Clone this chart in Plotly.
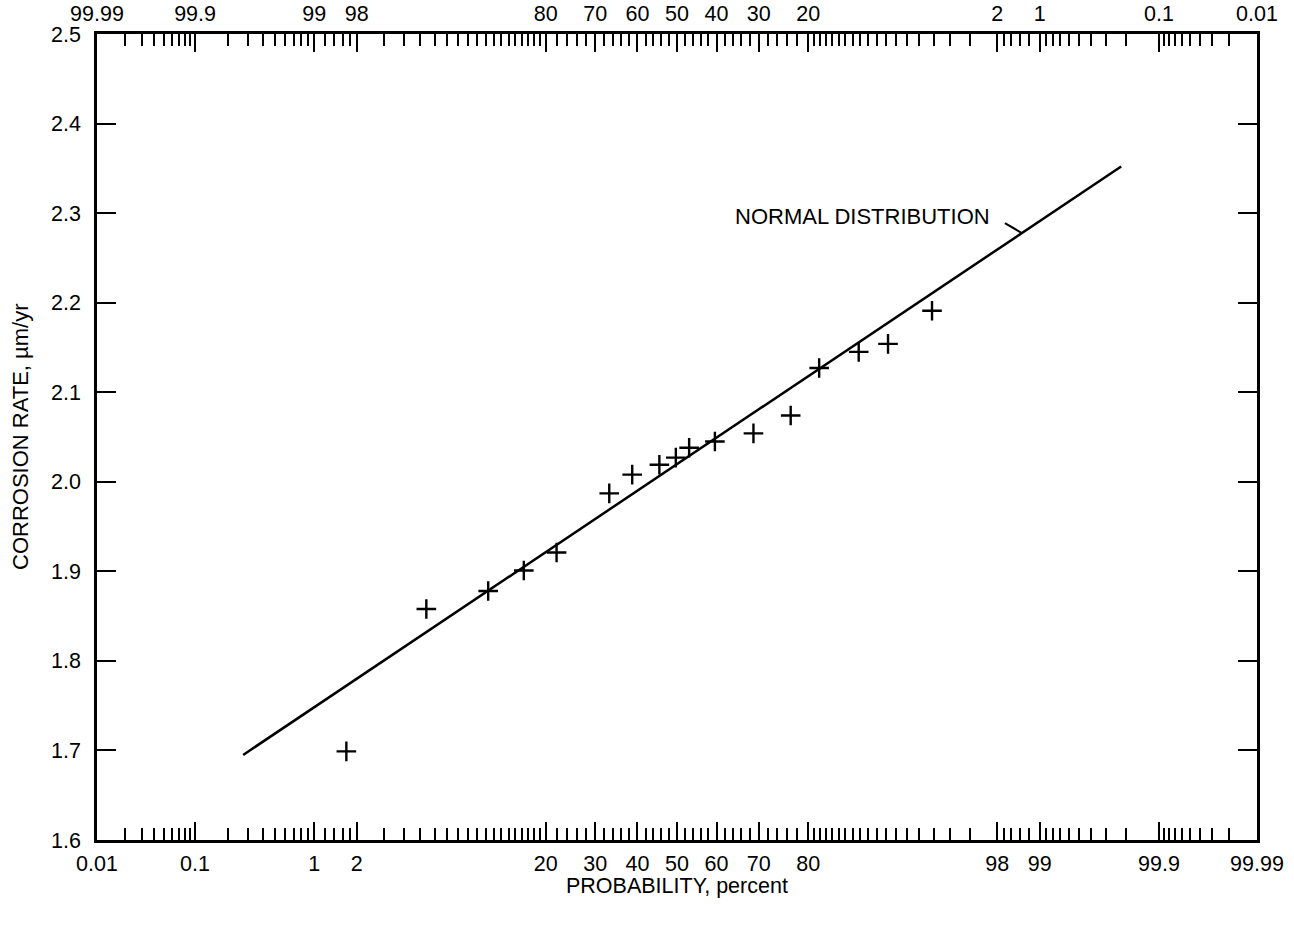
import plotly.graph_objects as go
from statistics import NormalDist

_nd = NormalDist()


def zq(p):
    """Probability in percent -> standard normal quantile (probability-paper scale)."""
    return _nd.inv_cdf(p / 100.0)


# ---------------- data ----------------
PROB_PCT = [1.7, 5.4, 11.3, 16.3, 22.0, 33.2, 38.7, 45.5, 49.7, 53.1,
            59.6, 68.8, 76.7, 81.9, 87.8, 91.2, 94.9]
RATE = [1.699, 1.858, 1.878, 1.901, 1.921, 1.987, 2.008, 2.019, 2.027, 2.038,
        2.045, 2.054, 2.074, 2.127, 2.145, 2.154, 2.191]

# fitted normal distribution line (end points)
LINE_PROB = [0.27, 99.78]
LINE_RATE = [1.695, 2.352]

# probability tick labels
PROB_TICKS = [0.01, 0.1, 1, 2, 20, 30, 40, 50, 60, 70, 80, 98, 99, 99.9, 99.99]
BOTTOM_TEXT = ["0.01", "0.1", "1", "2", "20", "30", "40", "50", "60", "70",
               "80", "98", "99", "99.9", "99.99"]
TOP_TEXT = ["99.99", "99.9", "99", "98", "80", "70", "60", "50", "40", "30",
            "20", "2", "1", "0.1", "0.01"]

Y_TICKS = [1.6, 1.7, 1.8, 1.9, 2.0, 2.1, 2.2, 2.3, 2.4, 2.5]

# minor probability ticks
MINOR_PROB = ([round(0.01 * k, 2) for k in range(2, 10)]
              + [round(0.1 * k, 1) for k in range(2, 10)]
              + [1.2, 1.4, 1.6, 1.8]
              + list(range(3, 20))
              + [v for v in range(22, 80, 2) if v % 10 != 0]
              + list(range(81, 98))
              + [98.2, 98.4, 98.6, 98.8]
              + [round(99 + 0.1 * k, 1) for k in range(1, 9)]
              + [round(99.9 + 0.01 * k, 2) for k in range(1, 9)])

ANNOT_PROB = 98.65  # where the "NORMAL DISTRIBUTION" leader touches the line

# ---------------- figure ----------------
FONT = "Liberation Sans, Arial, Helvetica, sans-serif"
TICK_SIZE = 21.5
xr = [zq(0.01), zq(99.99)]

fig = go.Figure()

fig.add_trace(go.Scatter(
    x=[zq(p) for p in LINE_PROB], y=LINE_RATE, mode="lines",
    line=dict(color="black", width=2.5), hoverinfo="skip", showlegend=False))

fig.add_trace(go.Scatter(
    x=[zq(p) for p in PROB_PCT], y=RATE, mode="markers",
    marker=dict(symbol="cross-thin", size=14, color="black",
                line=dict(color="black", width=2.4)),
    showlegend=False))

# invisible trace to activate the top axis
fig.add_trace(go.Scatter(
    x=[zq(p) for p in PROB_PCT], y=RATE, xaxis="x2", mode="markers",
    marker=dict(opacity=0), hoverinfo="skip", showlegend=False))

tick_major = [zq(p) for p in PROB_TICKS]
tick_minor = [zq(p) for p in MINOR_PROB]

common_x = dict(
    range=xr, tickmode="array", tickvals=tick_major,
    ticks="inside", ticklen=18, tickwidth=1.9, tickcolor="black",
    showline=True, linewidth=2.5, linecolor="black",
    showgrid=False, zeroline=False, automargin=False,
    tickfont=dict(family=FONT, size=TICK_SIZE, color="black"),
    minor=dict(tickmode="array", tickvals=tick_minor, ticks="inside",
               ticklen=12, tickwidth=1.7, tickcolor="black", showgrid=False),
)

fig.update_layout(
    width=1294, height=925,
    margin=dict(l=97, r=37, t=34, b=85),
    paper_bgcolor="white", plot_bgcolor="white",
    font=dict(family=FONT, size=20, color="black"),
    xaxis=dict(side="bottom", ticktext=BOTTOM_TEXT, ticklabelstandoff=2,
               **common_x),
    xaxis2=dict(side="top", overlaying="x", matches="x", ticktext=TOP_TEXT,
                ticklabelstandoff=2, **common_x),
    yaxis=dict(range=[1.6, 2.5], tickmode="array", tickvals=Y_TICKS,
               tickformat=".1f", ticks="inside", ticklen=19, tickwidth=1.9,
               tickcolor="black", showline=True, linewidth=2.5,
               linecolor="black", mirror="ticks", showgrid=False,
               zeroline=False, automargin=False, ticklabelstandoff=9,
               tickfont=dict(family=FONT, size=TICK_SIZE, color="black")),
)

# axis titles
fig.add_annotation(text="PROBABILITY, percent", xref="paper", yref="paper",
                   x=0.5, y=0, xanchor="center", yanchor="middle",
                   yshift=-46, showarrow=False,
                   font=dict(family=FONT, size=21.5, color="black"))
fig.add_annotation(text="CORROSION RATE, \u00b5m/yr", xref="paper",
                   yref="paper", x=0, y=0.5, xanchor="center",
                   yanchor="middle", xshift=-77, textangle=-90,
                   showarrow=False,
                   font=dict(family=FONT, size=22, color="black"))

# label for the fitted line with a short leader
zl = [zq(p) for p in LINE_PROB]
za = zq(ANNOT_PROB)
ya = LINE_RATE[0] + (LINE_RATE[1] - LINE_RATE[0]) * (za - zl[0]) / (zl[1] - zl[0])
fig.add_shape(type="line", xref="x", yref="y", xsizemode="pixel",
              ysizemode="pixel", xanchor=za, yanchor=ya,
              x0=-17, y0=10, x1=0, y1=0,
              line=dict(color="black", width=2))
fig.add_annotation(text="NORMAL DISTRIBUTION", x=za, y=ya, xref="x", yref="y",
                   xanchor="right", yanchor="middle", xshift=-30, yshift=17,
                   showarrow=False,
                   font=dict(family=FONT, size=22, color="black"))

fig.write_html("out.html")
